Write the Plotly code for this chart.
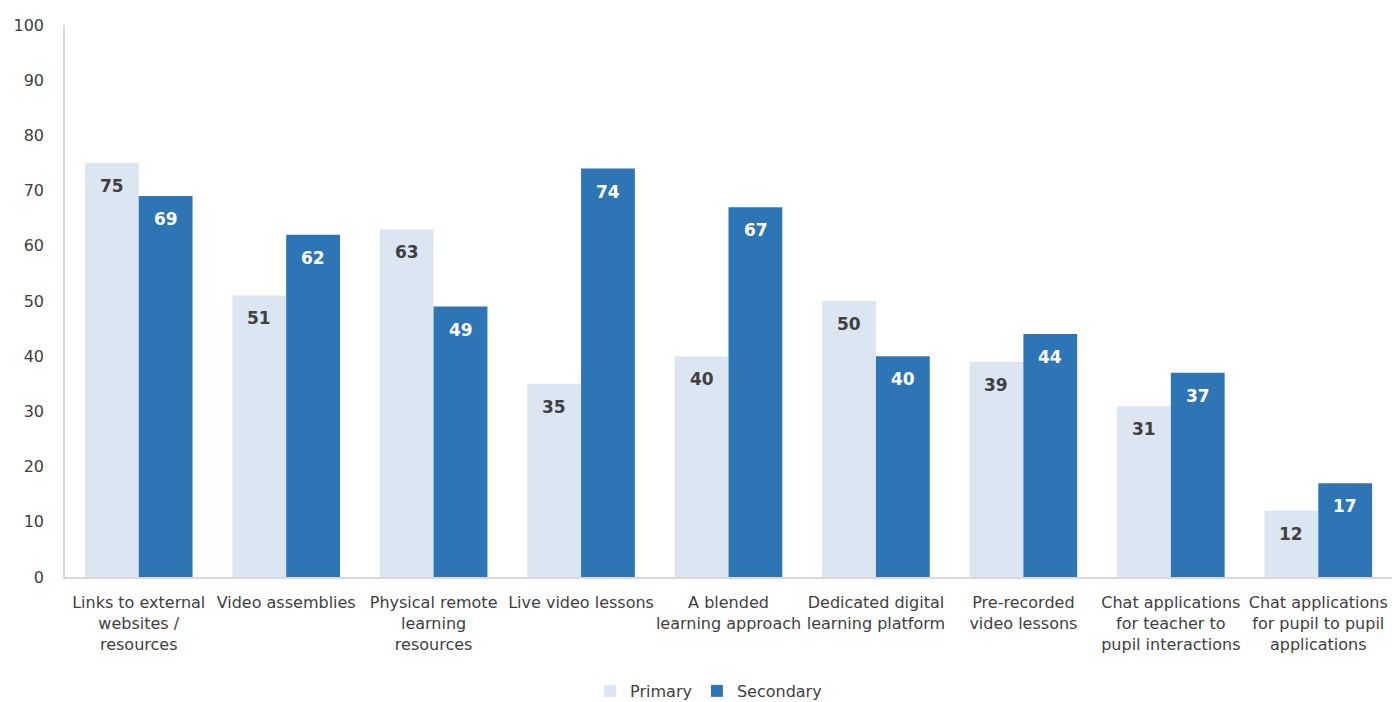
import plotly.graph_objects as go

categories = [
    "Links to external<br>websites /<br>resources",
    "Video assemblies",
    "Physical remote<br>learning<br>resources",
    "Live video lessons",
    "A blended<br>learning approach",
    "Dedicated digital<br>learning platform",
    "Pre-recorded<br>video lessons",
    "Chat applications<br>for teacher to<br>pupil interactions",
    "Chat applications<br>for pupil to pupil<br>applications",
]
primary = [75, 51, 63, 35, 40, 50, 39, 31, 12]
secondary = [69, 62, 49, 74, 67, 40, 44, 37, 17]
y_ticks = [0, 10, 20, 30, 40, 50, 60, 70, 80, 90, 100]

FONT = "DejaVu Sans, sans-serif"
TEXT = "#404040"
PRIMARY_COLOR = "#DCE6F2"
SECONDARY_COLOR = "#2E75B6"

fig = go.Figure()
fig.add_trace(go.Bar(
    name="Primary", x=categories, y=primary,
    marker=dict(color=PRIMARY_COLOR, line=dict(width=0)),
))
fig.add_trace(go.Bar(
    name="Secondary", x=categories, y=secondary,
    marker=dict(color=SECONDARY_COLOR, line=dict(width=0)),
))

# value labels sit just inside the top of each bar
label_font = dict(family=FONT, size=17, weight="bold")
for cat, p, s in zip(categories, primary, secondary):
    fig.add_annotation(x=cat, y=p, text=str(p), showarrow=False,
                       xshift=-27, yshift=-23, yanchor="middle",
                       font=dict(**label_font, color=TEXT))
    fig.add_annotation(x=cat, y=s, text=str(s), showarrow=False,
                       xshift=27, yshift=-23, yanchor="middle",
                       font=dict(**label_font, color="white"))

fig.update_layout(
    width=1392, height=702,
    margin=dict(l=65, r=0, t=25, b=125, autoexpand=False),
    paper_bgcolor="white", plot_bgcolor="white",
    barmode="group", bargap=0.27, bargroupgap=0,
    font=dict(family=FONT, size=16, color=TEXT),
    legend=dict(
        orientation="h", x=0.485, xanchor="center", y=-0.2065,
        yanchor="middle",
        font=dict(family=FONT, size=16, color=TEXT),
        traceorder="normal",
    ),
    xaxis=dict(
        showline=True, linecolor="#D9D9D9", linewidth=1.5,
        showgrid=False, ticks="", tickfont=dict(size=16, color=TEXT),
        tickangle=0, automargin=False, ticklabelstandoff=10,
    ),
    yaxis=dict(
        range=[0, 100], tickvals=y_ticks, showgrid=False,
        showline=True, linecolor="#D9D9D9", linewidth=1.5,
        zeroline=False, ticks="", ticklabelstandoff=16, automargin=False,
        tickfont=dict(size=16, color=TEXT),
    ),
)

fig.write_html("out.html")
